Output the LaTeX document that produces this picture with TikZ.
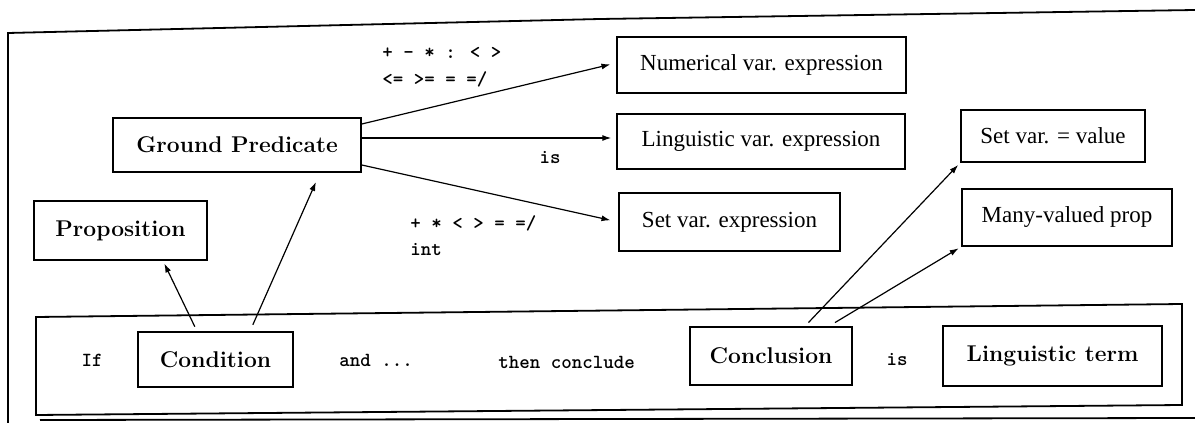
\documentclass[tikz,border=0pt]{standalone}
\usepackage{fontspec}
\newfontfamily\timesf{Liberation Serif}
\usetikzlibrary{arrows.meta}
\begin{document}
\begin{tikzpicture}[x=0.5pt,y=0.5pt,
  frame/.style={line width=0.9pt},
  bbox/.style={draw, line width=0.8pt, inner sep=0pt, font=\fontsize{11.4}{13}\selectfont\bfseries},
  tbox/.style={draw, line width=0.7pt, inner sep=0pt, font=\timesf\fontsize{11.5}{13}\selectfont},
  op/.style={inner sep=0pt, font=\fontsize{10}{12}\selectfont\ttfamily\bfseries},
  arr/.style={line width=0.6pt, -{Latex[length=4.5pt,width=3pt]}}]
\useasboundingbox (0,0) rectangle (1195,423);

% outer frame and rule frame
\draw[frame] (8,0) -- (8,390) -- (600,404) -- (1195,413);
\draw[frame] (40,3) -- (1195,5);
\draw[frame] (36,106) -- (1182,119) -- (1182,18) -- (36,8) -- cycle;

% boxes
\node[bbox, minimum width=124pt, minimum height=27pt] (gp) at (237,278) {Ground Predicate};
\node[tbox, minimum width=144.5pt, minimum height=28pt] (num) at (761.5,358) {Numerical var. expression};
\node[tbox, minimum width=144pt, minimum height=27.5pt] (lvar) at (761,281.5) {Linguistic var. expression};
\node[tbox, minimum width=110.5pt, minimum height=29pt] (sexp) at (729.5,201) {Set var. expression};
\node[tbox, minimum width=92pt, minimum height=26pt] (sval) at (1053,287) {Set var. = value};
\node[tbox, minimum width=105pt, minimum height=28.5pt] (many) at (1067,205.5) {Many-valued prop};
\node[bbox, minimum width=86.5pt, minimum height=29.5pt] (prop) at (120.5,192.5) {Proposition};
\node[bbox, minimum width=77.5pt, minimum height=27.5pt] (cond) at (215.5,63.5) {Condition};
\node[bbox, minimum width=81pt, minimum height=29pt] (concl) at (771,67) {Conclusion};
\node[bbox, minimum width=109.5pt, minimum height=30pt] (lt) at (1052.5,67) {Linguistic term};

% texts
\node[op, anchor=west] (ops1) at (382,370) {+ - * : < >};
\node[op, anchor=west] (ops2) at (382,344) {<= >= = =/};
\node[op] (isgp) at (550,265) {is};
\node[op, anchor=west] (ops3) at (410,200) {+ * < > = =/};
\node[op, anchor=west] (int) at (410,173) {int};
\node[op] (if) at (92,63) {If};
\node[op, anchor=west] (and) at (339,63) {and ...};
\node[op, anchor=west] (then) at (498,61) {then conclude};
\node[op] (is2) at (897,63) {is};

% connectors
\draw[arr, shorten <=2.5pt, shorten >=1.5pt] ([xshift=-9.25pt]cond.north) -- ([xshift=21.25pt]prop.south);
\draw[arr, shorten <=3.5pt, shorten >=5pt] ([xshift=17.25pt]cond.north) -- ([xshift=41.5pt]gp.south);
\draw[arr, shorten >=3pt] ([yshift=10.5pt]gp.east) -- ([yshift=1pt]num.west);
\draw[arr, shorten >=2.5pt] ([yshift=3.5pt]gp.east) -- ([yshift=1.75pt]lvar.west);
\draw[arr, shorten >=4pt] ([yshift=-10pt]gp.east) -- (sexp.west);
\draw[arr, shorten <=2.5pt, shorten >=1.5pt] ([xshift=17pt]concl.north) -- (sval.south west);
\draw[arr, shorten <=3.5pt, shorten >=1.5pt] ([xshift=29pt]concl.north) -- (many.south west);
\end{tikzpicture}
\end{document}
